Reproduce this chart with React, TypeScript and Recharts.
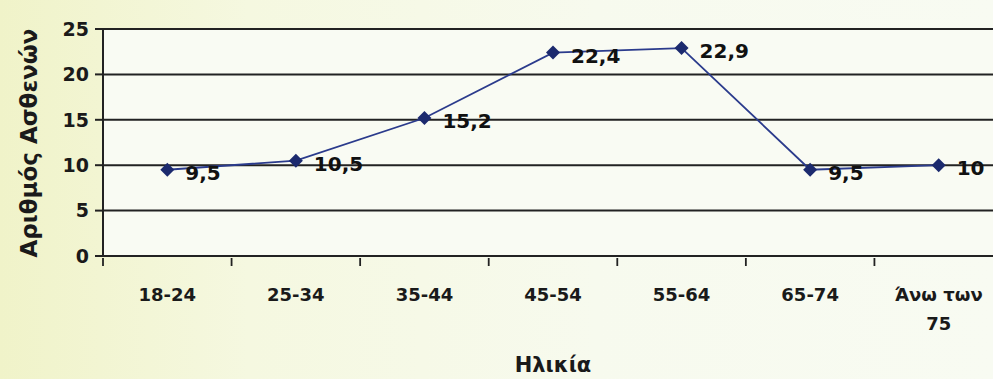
import { LineChart, Line, XAxis, YAxis, CartesianGrid, LabelList } from "recharts";

const ageGroups = ["18-24", "25-34", "35-44", "45-54", "55-64", "65-74", "Άνω των 75"];
const patients = [9.5, 10.5, 15.2, 22.4, 22.9, 9.5, 10];
const yTicks = [0, 5, 10, 15, 20, 25];

const data = ageGroups.map((age, i) => ({ age, value: patients[i] }));

const FONT = "'DejaVu Sans', sans-serif";
const PLOT_LEFT = 103;
const PLOT_W = 900;
const BAND = PLOT_W / ageGroups.length;

function AgeTick({ x, y, payload }: { x?: number; y?: number; payload?: { value: string } }) {
  const label = payload?.value ?? "";
  const lines = label === "Άνω των 75" ? ["Άνω των", "75"] : [label];
  const left = (x ?? 0) - BAND / 2;
  return (
    <g>
      <line x1={left} y1={y} x2={left} y2={(y ?? 0) + 8} stroke="#222" strokeWidth={1.8} />
      {lines.map((t, i) => (
        <text
          key={i}
          x={x}
          y={(y ?? 0) + 43 + i * 29}
          textAnchor="middle"
          fontFamily={FONT}
          fontWeight="bold"
          fontSize={18}
          fill="#1a1a1a"
        >
          {t}
        </text>
      ))}
    </g>
  );
}

function Diamond({ cx, cy }: { cx?: number; cy?: number }) {
  if (cx == null || cy == null) return null;
  return (
    <polygon
      points={`${cx},${cy - 7} ${cx + 7},${cy} ${cx},${cy + 7} ${cx - 7},${cy}`}
      fill="#1c2a6e"
    />
  );
}

function ValueLabel({ x, y, value }: { x?: number; y?: number; value?: number }) {
  return (
    <text
      x={(x ?? 0) + 18}
      y={(y ?? 0) + 10}
      fontFamily={FONT}
      fontWeight="bold"
      fontSize={20}
      fill="#111"
    >
      {String(value).replace(".", ",")}
    </text>
  );
}

export default function App() {
  return (
    <div
      style={{
        position: "absolute",
        left: 0,
        top: 0,
        width: 993,
        height: 379,
        overflow: "hidden",
        background: "linear-gradient(90deg, #f0f3c9 0%, #f5f8e0 25%, #f7faee 60%, #f8fbf2 100%)",
      }}
    >
      <LineChart
        width={PLOT_LEFT + PLOT_W}
        height={379}
        data={data}
        margin={{ top: 29, right: 0, left: 0, bottom: 23 }}
      >
        <CartesianGrid
          vertical={false}
          stroke="#222"
          strokeWidth={2}
          fill="#f9fbf3"
          fillOpacity={1}
        />
        <XAxis
          dataKey="age"
          scale="band"
          height={100}
          interval={0}
          tickLine={false}
          tickSize={0}
          axisLine={{ stroke: "#222", strokeWidth: 2 }}
          tick={<AgeTick />}
        />
        <YAxis
          width={PLOT_LEFT}
          domain={[0, 25]}
          ticks={yTicks}
          tickSize={8}
          tickMargin={6}
          axisLine={{ stroke: "#222", strokeWidth: 2 }}
          tickLine={{ stroke: "#222", strokeWidth: 2 }}
          tick={{ fontFamily: FONT, fontWeight: "bold", fontSize: 19, fill: "#1a1a1a" }}
        />
        <text
          x={PLOT_LEFT + PLOT_W / 2}
          y={372}
          textAnchor="middle"
          fontFamily={FONT}
          fontWeight="bold"
          fontSize={21}
          fill="#1a1a1a"
        >
          Ηλικία
        </text>
        <text
          x={0}
          y={0}
          transform="translate(37,143) rotate(-90)"
          textAnchor="middle"
          fontFamily={FONT}
          fontWeight="bold"
          fontSize={23}
          fill="#1a1a1a"
        >
          Αριθμός Ασθενών
        </text>
        <Line
          dataKey="value"
          stroke="#2b3b8c"
          strokeWidth={1.8}
          dot={<Diamond />}
          activeDot={false}
          isAnimationActive={false}
        >
          <LabelList dataKey="value" content={<ValueLabel />} />
        </Line>
      </LineChart>
    </div>
  );
}
